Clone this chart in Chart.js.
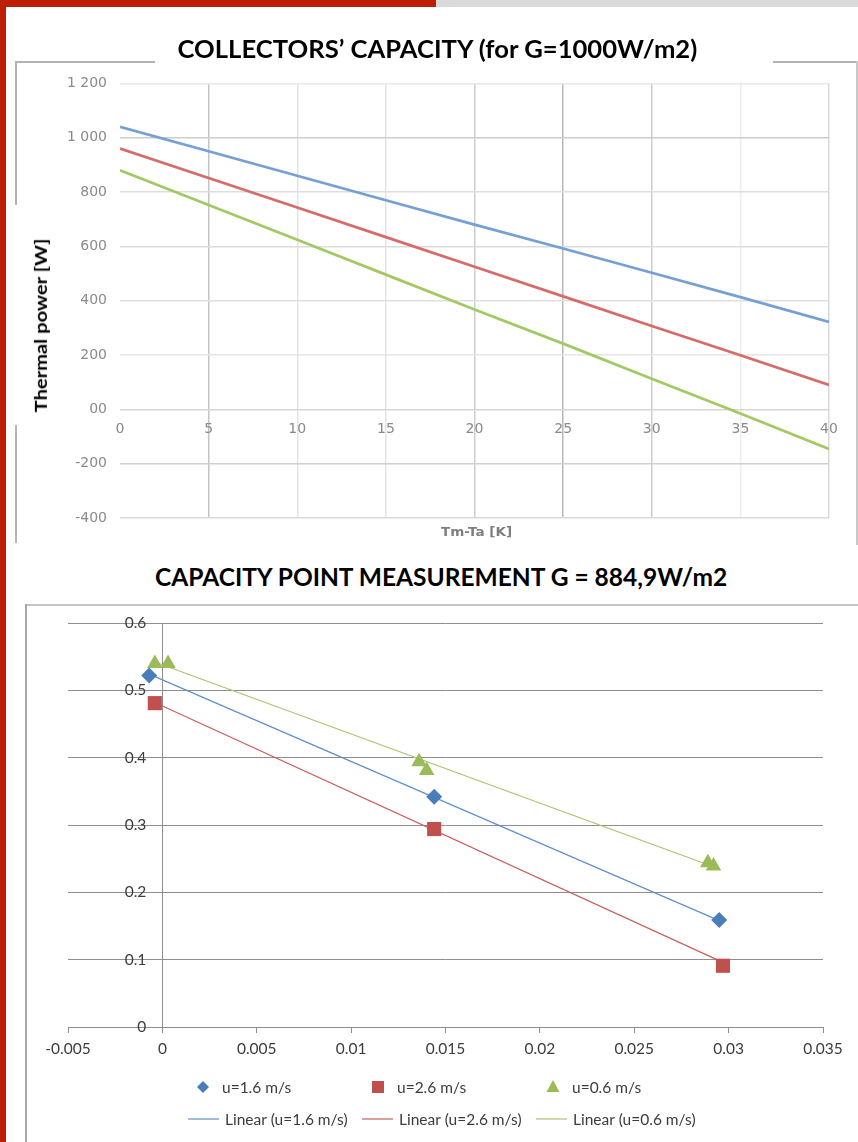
<!DOCTYPE html>
<html>
<head>
<meta charset="utf-8">
<script src="https://cdn.jsdelivr.net/npm/chart.js@4.4.1/dist/chart.umd.min.js"></script>
<style>
  body { margin: 0; width: 858px; height: 1142px; position: relative; overflow: hidden; background: #fff; }
  .abs { position: absolute; }
  .txt { position: absolute; white-space: nowrap; font-family: Lato, "Open Sans", sans-serif; font-weight: bold; color: #000; line-height: 1; }
  canvas { position: absolute; }
</style>
</head>
<body>
<!-- slide decorations -->
<div class="abs" style="left:0;top:0;width:6px;height:1142px;background:#bc1f06"></div>
<div class="abs" style="left:0;top:0;width:436px;height:7px;background:#bc1f06"></div>
<div class="abs" style="left:436px;top:0;width:422px;height:7px;background:#dadada"></div>

<!-- frame of the upper chart -->
<div class="abs" style="left:15px;top:61px;width:140px;height:2px;background:#b4b4b4"></div>
<div class="abs" style="left:773px;top:61px;width:84px;height:2px;background:#b4b4b4"></div>
<div class="abs" style="left:15px;top:61px;width:2px;height:144px;background:#b4b4b4"></div>
<div class="abs" style="left:15px;top:425px;width:2px;height:118px;background:#b4b4b4"></div>
<div class="abs" style="left:856px;top:61px;width:2px;height:484px;background:#c8c8c8"></div>

<!-- frame of the lower chart -->
<div class="abs" style="left:25px;top:604px;width:833px;height:2px;background:#c4c4c4"></div>
<div class="abs" style="left:25px;top:604px;width:2px;height:538px;background:#a8a8a8"></div>

<canvas id="powerChart" width="840" height="482" style="left:16px;top:62px"></canvas>
<canvas id="pointChart" width="832" height="537" style="left:26px;top:605px"></canvas>

<span class="txt" id="t1" style="font-size:24px">COLLECTORS’ CAPACITY (for G=1000W/m2)</span>
<span class="txt" id="t2" style="font-size:24px">CAPACITY POINT MEASUREMENT G = 884,9W/m2</span>
<span class="txt" id="t3" style="font-size:17px">Thermal power [W]</span>
<span class="txt" id="t4" style="font-size:12px;color:#7f7f7f;font-family:'DejaVu Sans',sans-serif">Tm-Ta [K]</span>

<script>
// ---- upper chart data ----
const tempDiff = [0, 5, 10, 15, 20, 25, 30, 35, 40];
const powerBlue = [1040, 950, 860, 770, 680, 592, 503, 413, 322];
const powerRed = [960, 852, 743, 634, 525, 416, 307, 199, 90];
const powerGreen = [880, 752, 624, 496, 368, 242, 113, -15, -146];
const powerTicks = ['-400', '-200', '00', '200', '400', '600', '800', '1 000', '1 200'];

// ---- lower chart data ----
const u16X = [-0.0007, 0.0144, 0.0295];
const u16Y = [0.522, 0.342, 0.159];
const u26X = [-0.0004, 0.0144, 0.0297];
const u26Y = [0.481, 0.294, 0.091];
const u06X = [-0.0004, 0.0003, 0.0136, 0.0140, 0.0289, 0.0292];
const u06Y = [0.540, 0.540, 0.394, 0.381, 0.244, 0.239];
const trend16X = [-0.0007, 0.0295];
const trend16Y = [0.524, 0.158];
const trend26X = [-0.0004, 0.0297];
const trend26Y = [0.482, 0.096];
const trend06X = [-0.0004, 0.0292];
const trend06Y = [0.542, 0.238];
const effTicks = ['0', '0.1', '0.2', '0.3', '0.4', '0.5', '0.6'];
const diffTicks = ['-0.005', '0', '0.005', '0.01', '0.015', '0.02', '0.025', '0.03', '0.035'];

function pts(xs, ys) {
  return xs.map((x, i) => ({ x: x, y: ys[i] }));
}

// text placement helper: centre text at (cx, cy) and stretch to width w
function placeText(id, cx, cy, w, rotate) {
  const el = document.getElementById(id);
  const k = w / el.offsetWidth;
  el.style.left = (cx - el.offsetWidth / 2) + 'px';
  el.style.top = (cy - el.offsetHeight / 2) + 'px';
  el.style.transform = (rotate ? 'rotate(-90deg) ' : '') + 'scaleX(' + k + ')';
}
placeText('t1', 437, 49, 520, false);
placeText('t2', 441, 577, 572, false);
placeText('t3', 40, 325, 174, true);
placeText('t4', 476, 532, 71, false);

// ---- upper chart ----
const vGrid = { 0: 'rgba(0,0,0,0)', 5: '#c4c4c4', 10: '#e4e4e4', 15: '#e4e4e4', 20: '#cdcdcd',
  25: '#b8b8b8', 30: '#cdcdcd', 35: '#ededed', 40: '#d9d9d9' };
const hGrid = { 1200: '#e8e8e8', 1000: '#cdcdcd', 800: '#dedede', 600: '#dcdcdc', 400: '#e0e0e0',
  200: '#e6e6e6', 0: '#d6d6d6', '-200': '#d0d0d0', '-400': '#dadada' };
const tickFontTop = { family: 'DejaVu Sans', size: 14 };

new Chart(document.getElementById('powerChart'), {
  type: 'line',
  data: {
    datasets: [
      { label: 'Collector 1', data: pts(tempDiff, powerBlue), borderColor: '#74a0d6' },
      { label: 'Collector 2', data: pts(tempDiff, powerRed), borderColor: '#d86a6a' },
      { label: 'Collector 3', data: pts(tempDiff, powerGreen), borderColor: '#a3c964' },
    ],
  },
  options: {
    responsive: false,
    animation: false,
    layout: { padding: { left: 0, right: 27, top: 18, bottom: 26 } },
    plugins: { legend: { display: false }, tooltip: { enabled: false } },
    elements: { point: { radius: 0 }, line: { borderWidth: 2.7, tension: 0 } },
    scales: {
      x: {
        type: 'linear',
        position: { y: 0 },
        min: 0,
        max: 40,
        ticks: { stepSize: 5, color: '#8a8a8a', font: tickFontTop, padding: 12, maxRotation: 0 },
        grid: { color: (c) => vGrid[c.tick.value] || '#e0e0e0', lineWidth: 1.5, drawTicks: false },
        border: { display: false },
      },
      y: {
        type: 'linear',
        position: 'left',
        min: -400,
        max: 1200,
        ticks: {
          stepSize: 200,
          color: '#8a8a8a',
          font: tickFontTop,
          padding: 13,
          callback: (v) => powerTicks[Math.round((v + 400) / 200)],
        },
        grid: { color: (c) => hGrid[c.tick.value] || '#e0e0e0', lineWidth: 1.5, drawTicks: false },
        border: { display: false },
        afterFit: (s) => { s.width = 104; },
      },
    },
  },
});

// ---- lower chart ----
const legendDraw = {
  id: 'legendDraw',
  afterDraw(chart) {
    const ctx = chart.ctx;
    const ds = chart.data.datasets;
    ctx.save();
    ctx.font = '15.5px Lato';
    ctx.fillStyle = '#3c3c3c';
    ctx.textBaseline = 'middle';
    const markX = [177, 352, 527];
    for (let i = 0; i < 3; i++) {
      const d = ds[i];
      const x = markX[i], y = 482;
      ctx.fillStyle = d.backgroundColor;
      ctx.beginPath();
      if (d.pointStyle === 'rectRot') {
        ctx.moveTo(x, y - 6); ctx.lineTo(x + 6, y); ctx.lineTo(x, y + 6); ctx.lineTo(x - 6, y);
      } else if (d.pointStyle === 'rect') {
        ctx.rect(x - 6, y - 6, 12, 12);
      } else {
        ctx.moveTo(x, y - 7); ctx.lineTo(x + 6.5, y + 5); ctx.lineTo(x - 6.5, y + 5);
      }
      ctx.closePath();
      ctx.fill();
      ctx.fillStyle = '#3c3c3c';
      ctx.fillText(d.label, x + 19, y + 1);
    }
    const lineX = [162, 336, 510];
    for (let i = 0; i < 3; i++) {
      const d = ds[i + 3];
      const x = lineX[i], y = 514;
      ctx.strokeStyle = d.borderColor;
      ctx.lineWidth = 1.2;
      ctx.beginPath();
      ctx.moveTo(x, y); ctx.lineTo(x + 31, y);
      ctx.stroke();
      ctx.fillText(d.label, x + 37, y + 1);
    }
    ctx.restore();
  },
};

const tickFontLow = { family: 'Lato', size: 15.5 };

new Chart(document.getElementById('pointChart'), {
  type: 'scatter',
  data: {
    datasets: [
      { label: 'u=1.6 m/s', data: pts(u16X, u16Y), pointStyle: 'rectRot', pointRadius: 8,
        backgroundColor: '#4a7ebb', borderColor: '#4a7ebb', pointBorderWidth: 0 },
      { label: 'u=2.6 m/s', data: pts(u26X, u26Y), pointStyle: 'rect', pointRadius: 10,
        backgroundColor: '#c0504d', borderColor: '#c0504d', pointBorderWidth: 0 },
      { label: 'u=0.6 m/s', data: pts(u06X, u06Y), pointStyle: 'triangle', pointRadius: 9,
        backgroundColor: '#9bbb59', borderColor: '#9bbb59', pointBorderWidth: 0 },
      { label: 'Linear (u=1.6 m/s)', data: pts(trend16X, trend16Y), showLine: true, pointRadius: 0,
        borderColor: '#5f8fcb', borderWidth: 1.2 },
      { label: 'Linear (u=2.6 m/s)', data: pts(trend26X, trend26Y), showLine: true, pointRadius: 0,
        borderColor: '#c95f5c', borderWidth: 1.2 },
      { label: 'Linear (u=0.6 m/s)', data: pts(trend06X, trend06Y), showLine: true, pointRadius: 0,
        borderColor: '#a9c46f', borderWidth: 1.2 },
    ],
  },
  options: {
    responsive: false,
    animation: false,
    layout: { padding: { left: 42, right: 35, top: 18, bottom: 115 } },
    plugins: { legend: { display: false }, tooltip: { enabled: false } },
    scales: {
      x: {
        type: 'linear',
        position: { y: 0 },
        min: -0.005,
        max: 0.035,
        ticks: {
          stepSize: 0.005,
          color: '#3c3c3c',
          font: tickFontLow,
          padding: 8,
          maxRotation: 0,
          callback: (v) => diffTicks[Math.round((v + 0.005) / 0.005)],
        },
        grid: { drawOnChartArea: false, drawTicks: true, tickLength: 5, color: '#8e8e8e' },
        border: { color: '#8e8e8e' },
      },
      y: {
        type: 'linear',
        position: { x: 0 },
        min: 0,
        max: 0.6,
        ticks: { stepSize: 0.1, display: false },
        grid: { color: '#8e8e8e', drawTicks: false },
        border: { color: '#8e8e8e' },
      },
      yTicks: {
        type: 'linear',
        position: { x: -0.00085 },
        min: 0,
        max: 0.6,
        ticks: {
          stepSize: 0.1,
          color: '#3c3c3c',
          font: tickFontLow,
          callback: (v) => effTicks[Math.round(v * 10)],
        },
        grid: { display: false, drawTicks: false },
        border: { display: false },
      },
    },
  },
  plugins: [legendDraw],
});
</script>
</body>
</html>
